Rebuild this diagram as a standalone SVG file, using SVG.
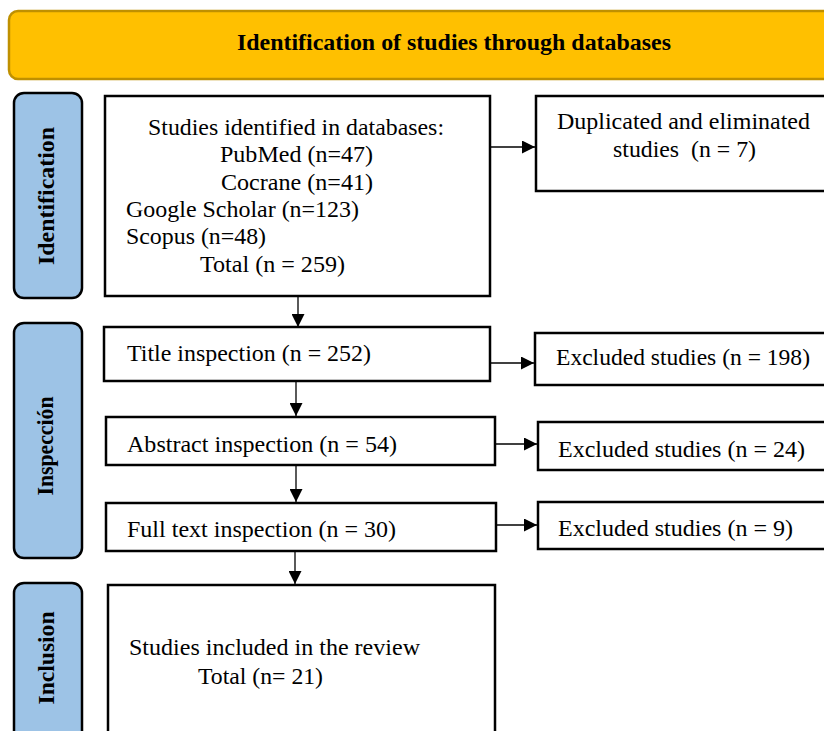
<svg xmlns="http://www.w3.org/2000/svg" width="824" height="731" viewBox="0 0 824 731">
<style>
text{font-family:"Liberation Serif","Times New Roman",serif;font-size:24px;fill:#000}
.box{fill:#fff;stroke:#000;stroke-width:2.5}
.side{fill:#9DC3E6;stroke:#000;stroke-width:2.5}
.lbl{font-weight:bold;text-anchor:middle}
.con{stroke:#000;stroke-width:1.3;fill:none;marker-end:url(#ah)}
</style>
<defs>
<marker id="ah" viewBox="0 0 10 10" refX="10" refY="5" markerWidth="14" markerHeight="13" markerUnits="userSpaceOnUse" orient="auto">
<path d="M0,0 L10,5 L0,10 Z" fill="#000"/>
</marker>
</defs>
<rect width="824" height="731" fill="#fff"/>
<g id="header">
<rect x="9" y="11" width="830" height="68" rx="9" fill="#FFC000" stroke="#BF9000" stroke-width="2.5"/>
<text x="454" y="50" class="lbl" textLength="434" lengthAdjust="spacingAndGlyphs">Identification of studies through databases</text>
</g>
<g id="side-identification">
<rect x="14" y="93" width="68" height="205" rx="10" class="side"/>
<text class="lbl" transform="translate(54,196) rotate(-90)" textLength="138" lengthAdjust="spacingAndGlyphs">Identification</text>
</g>
<g id="side-inspeccion">
<rect x="14" y="323" width="68" height="235" rx="10" class="side"/>
<text class="lbl" transform="translate(53,446) rotate(-90)" textLength="99" lengthAdjust="spacingAndGlyphs">Inspección</text>
</g>
<g id="side-inclusion">
<rect x="14" y="583" width="68" height="170" rx="10" class="side"/>
<text class="lbl" transform="translate(54,658) rotate(-90)" textLength="93" lengthAdjust="spacingAndGlyphs">Inclusion</text>
</g>
<g id="identified">
<rect x="105" y="96" width="385" height="200" class="box"/>
<text x="148" y="135" textLength="296" lengthAdjust="spacingAndGlyphs">Studies identified in databases:</text>
<text x="220" y="162" textLength="153" lengthAdjust="spacingAndGlyphs">PubMed (n=47)</text>
<text x="221" y="190" textLength="152" lengthAdjust="spacingAndGlyphs">Cocrane (n=41)</text>
<text x="126" y="217" textLength="233" lengthAdjust="spacingAndGlyphs">Google Scholar (n=123)</text>
<text x="126" y="244" textLength="140" lengthAdjust="spacingAndGlyphs">Scopus (n=48)</text>
<text x="200" y="272" textLength="145" lengthAdjust="spacingAndGlyphs">Total (n = 259)</text>
</g>
<g id="duplicated">
<rect x="536" y="96" width="300" height="95" class="box"/>
<text x="557" y="129" textLength="253" lengthAdjust="spacingAndGlyphs">Duplicated and eliminated</text>
<text x="613" y="157" xml:space="preserve" textLength="143" lengthAdjust="spacingAndGlyphs">studies  (n = 7)</text>
</g>
<g id="title">
<rect x="104" y="327" width="386" height="54" class="box"/>
<text x="127" y="361" textLength="244" lengthAdjust="spacingAndGlyphs">Title inspection (n = 252)</text>
</g>
<g id="excl198">
<rect x="535" y="333" width="300" height="52" class="box"/>
<text x="556" y="365" textLength="254" lengthAdjust="spacingAndGlyphs">Excluded studies (n = 198)</text>
</g>
<g id="abstract">
<rect x="106" y="417" width="389" height="48" class="box"/>
<text x="127" y="452" textLength="270" lengthAdjust="spacingAndGlyphs">Abstract inspection (n = 54)</text>
</g>
<g id="excl24">
<rect x="538" y="422" width="300" height="48" class="box"/>
<text x="558" y="457" textLength="247" lengthAdjust="spacingAndGlyphs">Excluded studies (n = 24)</text>
</g>
<g id="fulltext">
<rect x="106" y="503" width="390" height="48" class="box"/>
<text x="127" y="537" textLength="269" lengthAdjust="spacingAndGlyphs">Full text inspection (n = 30)</text>
</g>
<g id="excl9">
<rect x="538" y="502" width="300" height="47" class="box"/>
<text x="558" y="536" textLength="235" lengthAdjust="spacingAndGlyphs">Excluded studies (n = 9)</text>
</g>
<g id="included">
<rect x="108" y="585" width="387" height="160" class="box"/>
<text x="129" y="655" textLength="291" lengthAdjust="spacingAndGlyphs">Studies included in the review</text>
<text x="198" y="684" textLength="125" lengthAdjust="spacingAndGlyphs">Total (n= 21)</text>
</g>
<g id="connectors">
<line x1="491" y1="147" x2="535" y2="147" class="con"/>
<line x1="298" y1="297" x2="298" y2="327" class="con"/>
<line x1="491" y1="363" x2="534" y2="363" class="con"/>
<line x1="296" y1="382" x2="296" y2="416" class="con"/>
<line x1="496" y1="444" x2="537" y2="444" class="con"/>
<line x1="296" y1="466" x2="296" y2="502" class="con"/>
<line x1="497" y1="525" x2="537" y2="525" class="con"/>
<line x1="295" y1="552" x2="295" y2="584" class="con"/>
</g>
</svg>
